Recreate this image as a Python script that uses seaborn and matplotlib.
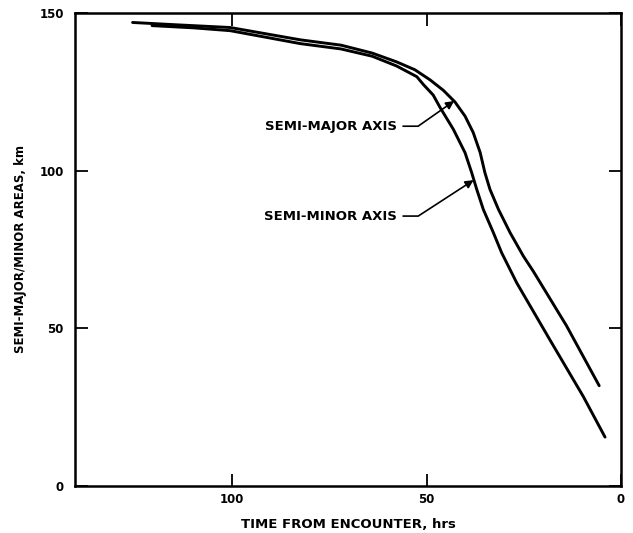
import matplotlib
matplotlib.use("Agg")
import matplotlib.pyplot as plt
import seaborn as sns
import pandas as pd

# Data
major_time = [125.6, 115.0, 100.5, 82.5, 72.0, 64.0, 57.7, 53.0, 49.1, 45.7, 42.7, 40.1,
              38.0, 36.2, 35.0, 33.7, 31.5, 28.5, 25.1, 22.5, 14.0, 5.6]
major_km = [147.0, 146.3, 145.4, 141.5, 139.8, 137.3, 134.5, 132.0, 128.8, 125.5, 121.8, 117.3,
            112.1, 105.7, 99.4, 94.1, 87.7, 80.3, 72.9, 68.0, 50.8, 31.8]

minor_time = [120.6, 110.0, 100.5, 82.5, 72.0, 64.0, 57.7, 52.5, 50.8, 48.3, 46.5, 43.1,
              40.1, 38.4, 37.1, 35.4, 32.8, 30.7, 26.8, 18.3, 9.7, 4.1]
minor_km = [146.0, 145.3, 144.4, 140.3, 138.6, 136.3, 133.2, 129.8, 127.3, 124.0, 120.0, 113.1,
            105.7, 99.4, 94.1, 87.7, 80.3, 74.0, 64.4, 46.4, 28.4, 15.5]

x_ticks = [100, 50, 0]
y_ticks = [0, 50, 100, 150]

df = pd.concat([
    pd.DataFrame({"time": major_time, "km": major_km, "series": "major"}),
    pd.DataFrame({"time": minor_time, "km": minor_km, "series": "minor"}),
])

sns.set_style("white")
plt.rcParams["font.family"] = ["DejaVu Sans"]
plt.rcParams.update({"text.color": "black", "axes.labelcolor": "black",
                     "xtick.color": "black", "ytick.color": "black"})

fig = plt.figure(figsize=(6.33, 5.33), dpi=100)
ax = fig.add_axes([0.1185, 0.0882, 0.8625, 0.8874])

sns.lineplot(data=df, x="time", y="km", hue="series", units="series", estimator=None,
             palette={"major": "black", "minor": "black"}, linewidth=2.1,
             legend=False, ax=ax, sort=True)

ax.set_xlim(140.4, 0)
ax.set_ylim(0, 150)
ax.set_xticks(x_ticks)
ax.set_yticks(y_ticks)
ax.set_xticklabels([str(t) for t in x_ticks], fontsize=8.5, fontweight="bold")
ax.set_yticklabels([str(t) for t in y_ticks], fontsize=8.5, fontweight="bold")
ax.tick_params(direction="in", length=9, width=1.3, top=True, right=True,
               bottom=True, left=True, labeltop=False, labelright=False)
ax.tick_params(axis="x", pad=5)
ax.tick_params(axis="y", pad=8)
for s in ax.spines.values():
    s.set_linewidth(1.8)
    s.set_color("black")

ax.set_xlabel("TIME FROM ENCOUNTER, hrs", fontsize=9.5, fontweight="bold")
ax.set_ylabel("SEMI-MAJOR/MINOR AREAS, km", fontsize=8.5, fontweight="bold")
ax.xaxis.set_label_coords(0.5, -0.068)
ax.yaxis.set_label_coords(-0.088, 0.5)

ax.annotate("SEMI-MAJOR AXIS", xy=(42.9, 122.1), xytext=(57.6, 114.1),
            ha="right", va="center", fontsize=9.5, fontweight="bold",
            arrowprops=dict(arrowstyle="-|>", color="black", lw=1.2,
                            connectionstyle="angle,angleA=0,angleB=35,rad=0",
                            shrinkA=2, shrinkB=0, mutation_scale=12))
ax.annotate("SEMI-MINOR AXIS", xy=(37.9, 97.0), xytext=(57.6, 85.6),
            ha="right", va="center", fontsize=9.5, fontweight="bold",
            arrowprops=dict(arrowstyle="-|>", color="black", lw=1.2,
                            connectionstyle="angle,angleA=0,angleB=33,rad=0",
                            shrinkA=2, shrinkB=0, mutation_scale=12))

fig.savefig("out.png", dpi=100)
